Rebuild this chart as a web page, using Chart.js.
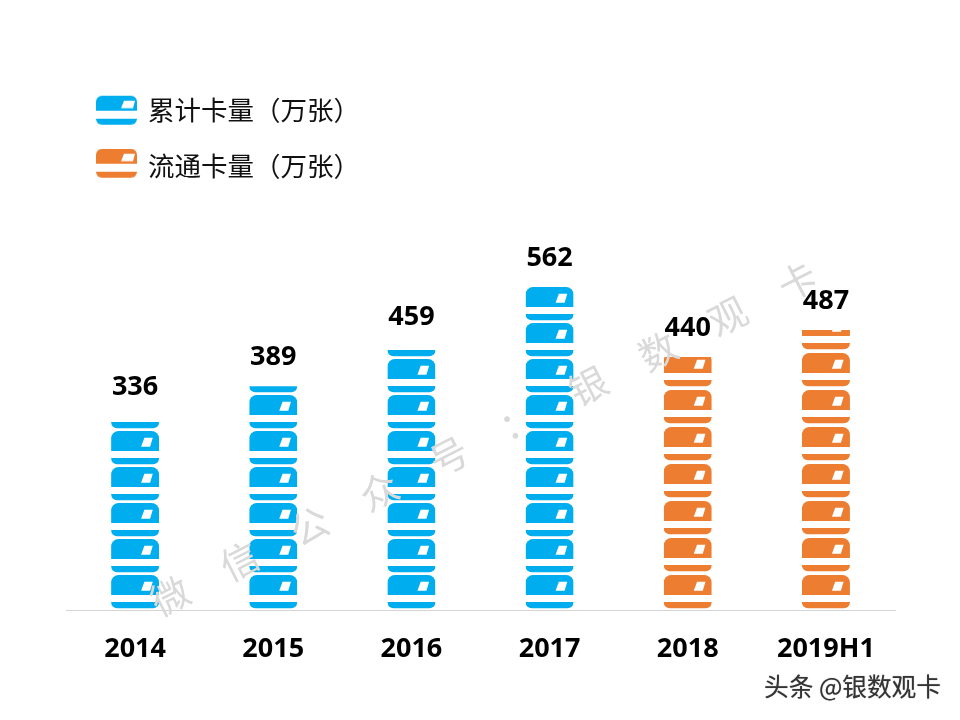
<!DOCTYPE html>
<html>
<head>
<meta charset="utf-8">
<style>
    body { margin: 0; background: #fff; }
</style>
</head>
<body>
<canvas id="chart" width="960" height="720"></canvas>
<script src="https://cdn.jsdelivr.net/npm/chart.js@4"></script>
<script>
const years = ['2014', '2015', '2016', '2017', '2018', '2019H1'];
const cumulativeCards = [336, 389, 459, 562, null, null];
const circulatingCards = [null, null, null, null, 440, 487];
const seriesNames = ['累计卡量（万张）', '流通卡量（万张）'];
const watermarkChars = ['微', '信', '公', '众', '号', '：', '银', '数', '观', '卡'];
const footerText = '头条 @银数观卡';

const BLUE = '#00aeef';
const ORANGE = '#ed7d31';
const CJK = '"Noto Sans CJK SC", sans-serif';
const NUM_FAMILY = '"Open Sans", sans-serif';

// one card in the stack, bottom is the lower edge of the stripe
function drawCard(ctx, left, bottom, width, color) {
    ctx.fillStyle = color;

    // stripe
    ctx.beginPath();
    ctx.roundRect(left, bottom - 6.3, width, 6.3, [0, 0, 6, 6]);
    ctx.fill();

    // body
    ctx.beginPath();
    ctx.roundRect(left, bottom - 33.3, width, 20, [7.5, 7.5, 0, 0]);
    ctx.fill();

    // chip
    ctx.fillStyle = '#fff';
    ctx.beginPath();
    ctx.moveTo(left + 33.3, bottom - 26.6);
    ctx.lineTo(left + 41.7, bottom - 26.6);
    ctx.lineTo(left + 39, bottom - 17.6);
    ctx.lineTo(left + 30, bottom - 17.6);
    ctx.closePath();
    ctx.fill();
}

// legend card is flatter than the ones in the stacks
function makeIcon(color, offset) {
    const c = document.createElement('canvas');
    c.width = 41;
    c.height = 34;
    const ctx = c.getContext('2d');
    ctx.fillStyle = color;
    ctx.beginPath();
    ctx.roundRect(0, offset, 41, 15, [6, 6, 0, 0]);
    ctx.fill();
    ctx.beginPath();
    ctx.roundRect(0, offset + 23, 41, 6, [0, 0, 6, 6]);
    ctx.fill();
    ctx.fillStyle = '#fff';
    ctx.beginPath();
    ctx.moveTo(28, offset + 5);
    ctx.lineTo(39, offset + 5);
    ctx.lineTo(37, offset + 12.5);
    ctx.lineTo(25, offset + 12.5);
    ctx.closePath();
    ctx.fill();
    return c;
}

const cardStack = {
    id: 'cardStack',
    afterLayout(chart) {
        chart.legend.left = 68.75;
        chart.legend.top = 67;
    },
    afterDatasetsDraw(chart) {
        const ctx = chart.ctx;
        chart.data.datasets.forEach((ds, i) => {
            chart.getDatasetMeta(i).data.forEach((bar, index) => {
                if (ds.data[index] === null) return;
                const left = bar.x - bar.width / 2;

                ctx.save();
                ctx.beginPath();
                ctx.rect(left, bar.y, bar.width, bar.base - bar.y);
                ctx.clip();
                for (let bottom = bar.base - 1.7; bottom > bar.y; bottom -= ds.cardPitch) {
                    drawCard(ctx, left, bottom, bar.width, ds.cardColor);
                }
                ctx.restore();

                // value above the stack
                ctx.fillStyle = '#000';
                ctx.font = 'bold 27px ' + NUM_FAMILY;
                ctx.textAlign = 'center';
                ctx.textBaseline = 'middle';
                ctx.fillText(ds.data[index], bar.x, bar.y - 29);
            });
        });
    },
    afterDraw(chart) {
        const ctx = chart.ctx;

        // watermark
        ctx.save();
        ctx.fillStyle = '#d9d9d9';
        ctx.font = '38px ' + CJK;
        ctx.textAlign = 'center';
        ctx.textBaseline = 'middle';
        watermarkChars.forEach((ch, i) => {
            ctx.save();
            ctx.translate(170 + i * 69.7, 596 - i * 35);
            ctx.rotate(-27 * Math.PI / 180);
            ctx.fillText(ch, 0, 0);
            ctx.restore();
        });
        ctx.restore();

        // footer mark
        ctx.save();
        ctx.font = '24.7px ' + CJK;
        ctx.textAlign = 'right';
        ctx.textBaseline = 'middle';
        ctx.fillStyle = '#333';
        ctx.shadowColor = 'rgba(0,0,0,0.5)';
        ctx.shadowBlur = 1;
        ctx.fillText(footerText, 941, 687);
        ctx.restore();
    }
};

new Chart(document.getElementById('chart'), {
    type: 'bar',
    data: {
        labels: years,
        datasets: [
            { label: seriesNames[0], data: cumulativeCards, backgroundColor: 'transparent', cardColor: BLUE, cardPitch: 36, iconOffset: 3 },
            { label: seriesNames[1], data: circulatingCards, backgroundColor: 'transparent', cardColor: ORANGE, cardPitch: 37, iconOffset: 0 }
        ]
    },
    options: {
        responsive: false,
        animation: false,
        layout: { padding: { left: 66, right: 65, top: 66, bottom: 0 } },
        datasets: { bar: { barThickness: 48 } },
        plugins: {
            tooltip: { enabled: false },
            legend: {
                position: 'chartArea',
                align: 'start',
                labels: {
                    usePointStyle: true,
                    pointStyleWidth: 36.5,
                    padding: 29.5,
                    color: '#111',
                    font: { size: 26.5, family: CJK },
                    generateLabels: (chart) => chart.data.datasets.map((ds, i) => ({
                        text: ds.label,
                        datasetIndex: i,
                        pointStyle: makeIcon(ds.cardColor, ds.iconOffset),
                        fontColor: '#111',
                        lineWidth: 0
                    }))
                }
            }
        },
        scales: {
            x: {
                stacked: true,
                grid: { display: false },
                border: { color: '#d4d4d4' },
                afterFit: (scale) => { scale.height = 110; },
                ticks: {
                    color: '#000',
                    padding: 15,
                    maxRotation: 0,
                    font: { size: 27, weight: 'bold', family: NUM_FAMILY }
                }
            },
            y: {
                display: false,
                stacked: true,
                min: 0,
                max: 946
            }
        }
    },
    plugins: [cardStack]
});
</script>
</body>
</html>
